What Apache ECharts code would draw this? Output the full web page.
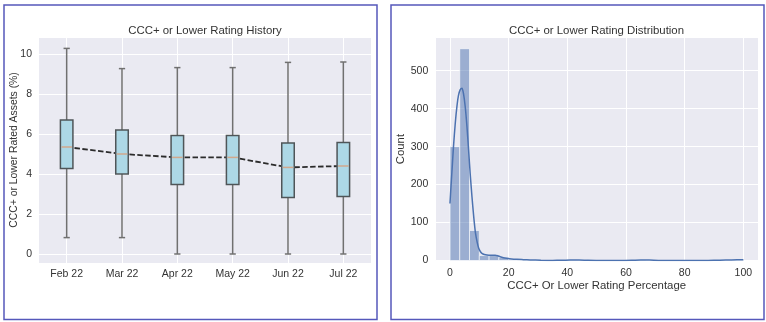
<!DOCTYPE html>
<html>
<head>
<meta charset="utf-8">
<script src="https://cdn.jsdelivr.net/npm/echarts@6/dist/echarts.min.js"></script>
<style>
  html, body { margin: 0; padding: 0; background: #fff; }
  #chart { width: 766px; height: 322px; }
</style>
</head>
<body>
<div id="chart"></div>
<script>
// Monthly CCC+ or lower share: box-plot five-number summaries
const months = ['Feb 22', 'Mar 22', 'Apr 22', 'May 22', 'Jun 22', 'Jul 22'];
const whiskerLow  = [0.82, 0.82, 0.0, 0.0, 0.0, 0.0];
const quartile1   = [4.28, 4.0, 3.47, 3.47, 2.83, 2.87];
const medians     = [5.35, 5.0, 4.83, 4.83, 4.33, 4.4];
const quartile3   = [6.7, 6.2, 5.92, 5.92, 5.55, 5.57];
const whiskerHigh = [10.28, 9.27, 9.32, 9.32, 9.58, 9.6];

// Distribution: 30 equal bins over the range, counts per bin
const histRange = [0, 100];
const histCounts = [300, 558, 79, 13, 13, 8, 3, 1, 1, 0,
                    0, 0, 2, 1, 0, 0, 0, 0, 0, 2,
                    0, 0, 0, 0, 0, 0, 0, 0, 0, 2];
// Kernel density estimate, scaled to counts: [percentage, count]
const kdeCurve = [
  [0, 150], [0.35, 195], [0.7, 238], [1.2, 300], [1.8, 361], [2.4, 408],
  [2.9, 435], [3.5, 450], [4.1, 454], [4.6, 440], [5.2, 405], [5.8, 352],
  [6.35, 291], [6.9, 228], [7.5, 168], [8.1, 115], [8.7, 72], [9.3, 47],
  [9.8, 32], [10.4, 23], [10.9, 19], [11.7, 16], [12.6, 14.5], [14, 14],
  [15.4, 14], [16.3, 12.5], [17.1, 10], [18.2, 7.5], [19.4, 5.7], [21, 4],
  [22.8, 3], [25, 2.3], [27.4, 1.6], [31, 0.8], [35, 0.3], [38, 0.5],
  [41, 1.2], [44, 1.4], [47, 0.6], [52, 0.1], [58, 0.1], [62, 0.6],
  [65, 1.4], [68, 1.0], [72, 0.2], [80, 0.05], [88, 0.2], [92, 0.8],
  [96, 1.6], [100, 1.9]
];

const FONT = "'Liberation Sans', Arial, sans-serif";
const TEXT = '#333333';
const PANEL_BG = '#eaeaf2';

const boxRows = months.map((m, i) =>
  [i, whiskerLow[i], quartile1[i], medians[i], quartile3[i], whiskerHigh[i]]);

const nBins = histCounts.length;
const binWidth = (histRange[1] - histRange[0]) / nBins;
const binRows = histCounts.map((c, i) =>
  [histRange[0] + i * binWidth, histRange[0] + (i + 1) * binWidth, c]);

function renderBox(params, api) {
  const i = api.value(0);
  const band = api.size([1, 0])[0];
  const half = band * 0.113;
  const capHalf = half * 0.5;
  const cx = api.coord([i, 0])[0];
  const yLow = api.coord([i, api.value(1)])[1];
  const yQ1 = api.coord([i, api.value(2)])[1];
  const yMed = api.coord([i, api.value(3)])[1];
  const yQ3 = api.coord([i, api.value(4)])[1];
  const yHigh = api.coord([i, api.value(5)])[1];
  const whisker = { stroke: '#707070', lineWidth: 1.5 };
  return {
    type: 'group',
    children: [
      { type: 'line', shape: { x1: cx, y1: yQ1, x2: cx, y2: yLow }, style: whisker },
      { type: 'line', shape: { x1: cx, y1: yQ3, x2: cx, y2: yHigh }, style: whisker },
      { type: 'line', shape: { x1: cx - capHalf, y1: yLow, x2: cx + capHalf, y2: yLow }, style: whisker },
      { type: 'line', shape: { x1: cx - capHalf, y1: yHigh, x2: cx + capHalf, y2: yHigh }, style: whisker },
      { type: 'rect', shape: { x: cx - half, y: yQ3, width: half * 2, height: yQ1 - yQ3 },
        style: { fill: '#add8e6', stroke: '#4f5558', lineWidth: 1.5 } },
      { type: 'line', shape: { x1: cx - half + 1, y1: yMed, x2: cx + half - 1, y2: yMed },
        style: { stroke: '#d2a88c', lineWidth: 1.5 } }
    ]
  };
}

function renderBin(params, api) {
  const p0 = api.coord([api.value(0), 0]);
  const p1 = api.coord([api.value(1), api.value(2)]);
  if (api.value(2) <= 0) return null;
  return {
    type: 'rect',
    shape: { x: p0[0], y: p1[1], width: p1[0] - p0[0], height: p0[1] - p1[1] },
    style: { fill: 'rgba(76,114,176,0.5)', stroke: 'rgba(255,255,255,0.75)', lineWidth: 0.8 }
  };
}

const axisLabelStyle = { color: TEXT, fontFamily: FONT, fontSize: 10.5 };
const gridLine = { show: true, lineStyle: { color: '#ffffff', width: 1 } };

const chart = echarts.init(document.getElementById('chart'), null, { renderer: 'canvas' });
chart.setOption({
  animation: false,
  backgroundColor: '#ffffff',
  title: [
    { text: 'CCC+ or Lower Rating History', left: 205, top: 25.5, padding: 0, textAlign: 'center',
      textStyle: { color: TEXT, fontFamily: FONT, fontSize: 11.4, fontWeight: 'normal' } },
    { text: 'CCC+ or Lower Rating Distribution', left: 596.5, top: 25.5, padding: 0, textAlign: 'center',
      textStyle: { color: TEXT, fontFamily: FONT, fontSize: 11.4, fontWeight: 'normal' } }
  ],
  graphic: [
    { type: 'rect', left: 1.5, top: 2.5, z: 100, silent: true,
      shape: { width: 373, height: 314.5 },
      style: { fill: 'none', stroke: '#5558bb', lineWidth: 1.5 } },
    { type: 'rect', left: 388.5, top: 2.5, z: 100, silent: true,
      shape: { width: 373, height: 314.5 },
      style: { fill: 'none', stroke: '#5558bb', lineWidth: 1.5 } }
  ],
  grid: [
    { left: 39, top: 37, width: 332, height: 226, show: true,
      backgroundColor: PANEL_BG, borderWidth: 0 },
    { left: 435.3, top: 37.7, width: 322.7, height: 222.8, show: true,
      backgroundColor: PANEL_BG, borderWidth: 0 }
  ],
  xAxis: [
    { type: 'category', gridIndex: 0, data: months, boundaryGap: true,
      axisLine: { show: false }, axisTick: { show: false, alignWithLabel: true },
      axisLabel: Object.assign({ margin: 6 }, axisLabelStyle),
      splitLine: Object.assign({ alignWithLabel: true }, gridLine) },
    { type: 'value', gridIndex: 1, min: -5, max: 105, splitNumber: 5,
      axisLine: { show: false }, axisTick: { show: false },
      axisLabel: Object.assign({ margin: 7, showMinLabel: false, showMaxLabel: false }, axisLabelStyle),
      splitLine: gridLine,
      name: 'CCC+ Or Lower Rating Percentage', nameLocation: 'middle', nameGap: 19.5,
      nameMoveOverlap: false,
      nameTextStyle: { color: TEXT, fontFamily: FONT, fontSize: 11.4 } }
  ],
  yAxis: [
    { type: 'value', gridIndex: 0, min: -0.45, max: 10.85, splitNumber: 5,
      axisLine: { show: false }, axisTick: { show: false },
      axisLabel: Object.assign({ margin: 7, showMinLabel: false, showMaxLabel: false }, axisLabelStyle),
      splitLine: gridLine,
      name: 'CCC+ or Lower Rated Assets (%)', nameLocation: 'middle', nameGap: 19.5,
      nameMoveOverlap: false,
      nameTextStyle: { color: TEXT, fontFamily: FONT, fontSize: 10.4 } },
    { type: 'value', gridIndex: 1, min: 0, max: 587, splitNumber: 5,
      axisLine: { show: false }, axisTick: { show: false },
      axisLabel: Object.assign({ margin: 7, showMaxLabel: false }, axisLabelStyle),
      splitLine: gridLine,
      name: 'Count', nameLocation: 'middle', nameGap: 29,
      nameMoveOverlap: false,
      nameTextStyle: { color: TEXT, fontFamily: FONT, fontSize: 11.4 } }
  ],
  series: [
    { type: 'line', xAxisIndex: 0, yAxisIndex: 0, data: medians, z: 2,
      symbol: 'none', lineStyle: { color: '#2b2b2b', width: 1.8, type: [5.5, 2.4] } },
    { type: 'custom', xAxisIndex: 0, yAxisIndex: 0, data: boxRows, z: 3,
      renderItem: renderBox, encode: { x: 0, y: [1, 2, 3, 4, 5] } },
    { type: 'custom', xAxisIndex: 1, yAxisIndex: 1, data: binRows, z: 2,
      renderItem: renderBin, encode: { x: [0, 1], y: 2 } },
    { type: 'line', xAxisIndex: 1, yAxisIndex: 1, data: kdeCurve, z: 3,
      symbol: 'none', smooth: 0.25,
      lineStyle: { color: '#4c72b0', width: 1.5 } }
  ]
});
</script>
</body>
</html>
